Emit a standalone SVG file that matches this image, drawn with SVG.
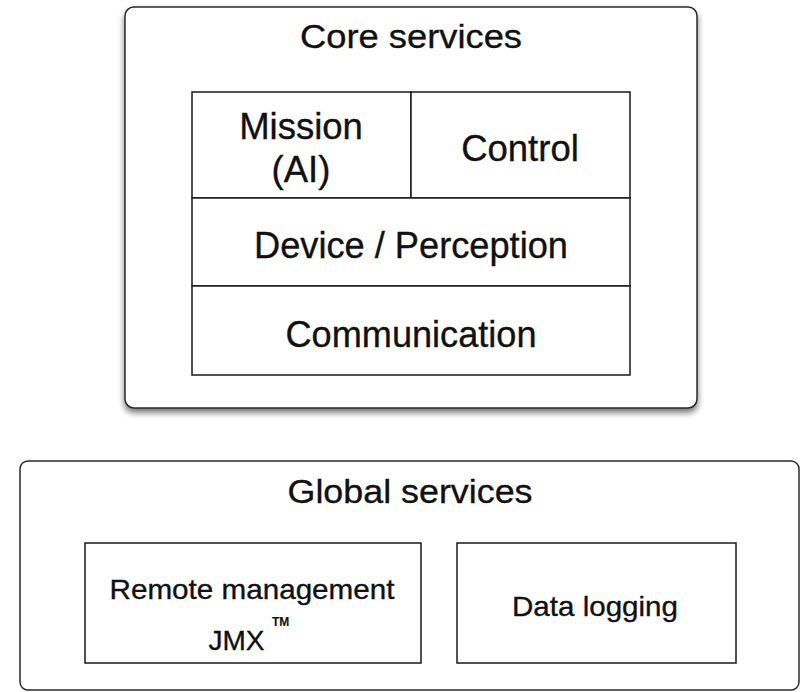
<svg xmlns="http://www.w3.org/2000/svg" width="803" height="692" viewBox="0 0 803 692">
  <style>
    .frame { fill: #ffffff; stroke: #2a2a2a; stroke-width: 1.5; }
    .cell { fill: #ffffff; stroke: #1a1a1a; stroke-width: 1.5; }
    text { font-family: "Liberation Sans", Arial, Helvetica, sans-serif; fill: #111111; stroke: #111111; stroke-width: 0.35; }
    .title { font-size: 34px; text-anchor: middle; }
    .label { font-size: 36.5px; text-anchor: middle; }
    .small { font-size: 28px; text-anchor: middle; }
    .tm { font-size: 12px; font-weight: bold; stroke-width: 0.1; }
  </style>
  <defs>
    <filter id="shadow" x="-10%" y="-10%" width="125%" height="125%">
      <feGaussianBlur in="SourceAlpha" stdDeviation="3"/>
      <feOffset dx="0" dy="4" result="blur"/>
      <feComponentTransfer><feFuncA type="linear" slope="0.55"/></feComponentTransfer>
      <feMerge><feMergeNode/><feMergeNode in="SourceGraphic"/></feMerge>
    </filter>
  </defs>
  <rect width="803" height="692" fill="#ffffff"/>

  <!-- Core services container -->
  <g id="core-services">
    <rect class="frame" x="125" y="7" width="572" height="401" rx="9" filter="url(#shadow)"/>
    <text class="title" x="411" y="48" textLength="222" lengthAdjust="spacingAndGlyphs">Core services</text>
  </g>

  <g id="mission">
    <rect class="cell" x="192" y="92" width="219" height="106"/>
    <text class="label" x="301" y="139">Mission</text>
    <text class="label" x="301" y="182">(AI)</text>
  </g>

  <g id="control">
    <rect class="cell" x="411" y="92" width="219" height="106"/>
    <text class="label" x="520" y="161">Control</text>
  </g>

  <g id="device-perception">
    <rect class="cell" x="192" y="198" width="438" height="88"/>
    <text class="label" x="411" y="258" textLength="314" lengthAdjust="spacingAndGlyphs">Device / Perception</text>
  </g>

  <g id="communication">
    <rect class="cell" x="192" y="286" width="438" height="89"/>
    <text class="label" x="411" y="347" textLength="251" lengthAdjust="spacingAndGlyphs">Communication</text>
  </g>

  <!-- Global services container -->
  <g id="global-services">
    <rect class="frame" x="20" y="461" width="779" height="229" rx="8"/>
    <text class="title" x="410" y="503" textLength="245" lengthAdjust="spacingAndGlyphs">Global services</text>
  </g>

  <g id="remote-management">
    <rect class="cell" x="85" y="543" width="336" height="120"/>
    <text class="small" x="252" y="599" textLength="285" lengthAdjust="spacingAndGlyphs">Remote management</text>
    <text class="small" x="236.5" y="650">JMX</text>
    <text class="tm" x="272" y="626">TM</text>
  </g>

  <g id="data-logging">
    <rect class="cell" x="457" y="543" width="279" height="120"/>
    <text class="small" x="595" y="616" textLength="166" lengthAdjust="spacingAndGlyphs">Data logging</text>
  </g>

  <g id="connectors"></g>
</svg>
